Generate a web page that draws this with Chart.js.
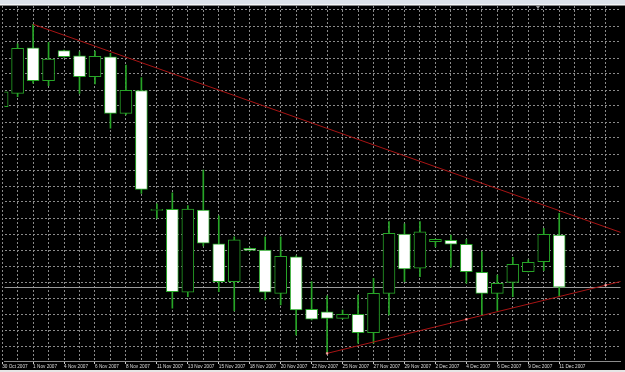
<!DOCTYPE html>
<html>
<head>
<meta charset="utf-8">
<script src="https://cdn.jsdelivr.net/npm/chart.js@4/dist/chart.umd.min.js"></script>
<style>
  html, body { margin: 0; padding: 0; background: #000; overflow: hidden; }
  #wrap { position: relative; width: 625px; height: 372px; }
  #wrap canvas { position: absolute; left: 0; top: 0; }
  #top { position: absolute; left: 0; top: 0; width: 625px; height: 4px; background: #dde2e9; border-bottom: 1px solid #f4f5f7; }
  #topline { position: absolute; left: 0; top: 5px; width: 625px; height: 1px; background: #858585; }
  #shift { position: absolute; left: 536px; top: 6px; width: 0; height: 0;
           border-left: 2px solid transparent; border-right: 2px solid transparent; border-top: 3px solid #9a9a9a; }
  #bottom { position: absolute; left: 0; top: 370px; width: 625px; height: 2px; background: #e6e6e6; }
</style>
</head>
<body>
<div id="wrap">
  <canvas id="chart" width="625" height="372"></canvas>
  <div id="top"></div>
  <div id="topline"></div>
  <div id="shift"></div>
  <div id="bottom"></div>
</div>
<script>
(() => {
  'use strict';

  // daily bars, 30 Oct - 11 Dec 2007 (price units)
  const DATES = ['30 Oct 2007', '31 Oct 2007', '1 Nov 2007', '2 Nov 2007', '4 Nov 2007', '5 Nov 2007',
    '6 Nov 2007', '7 Nov 2007', '8 Nov 2007', '9 Nov 2007', '11 Nov 2007', '12 Nov 2007', '13 Nov 2007',
    '14 Nov 2007', '15 Nov 2007', '16 Nov 2007', '18 Nov 2007', '19 Nov 2007', '20 Nov 2007', '21 Nov 2007',
    '22 Nov 2007', '23 Nov 2007', '25 Nov 2007', '26 Nov 2007', '27 Nov 2007', '28 Nov 2007', '29 Nov 2007',
    '30 Nov 2007', '2 Dec 2007', '3 Dec 2007', '4 Dec 2007', '5 Dec 2007', '6 Dec 2007', '7 Dec 2007',
    '9 Dec 2007', '10 Dec 2007', '11 Dec 2007'];

  const OPEN = [159.6, 167.9, 196.4, 175.8, 194.6, 191.3, 178.3, 190.8, 155.4, 169.6, 94.8, 95.4, 43.6,
    95.0, 73.8, 50.2, 71.1, 70.0, 42.9, 65.8, 32.9, 31.4, 27.3, 29.8, 18.3, 42.9, 80.0, 58.6, 75.2, 76.1,
    73.6, 56.1, 42.9, 49.8, 56.4, 62.7, 79.4];
  const HIGH = [173.1, 198.8, 211.1, 199.8, 195.0, 193.9, 194.4, 192.9, 185.6, 177.7, 98.8, 105.8, 97.7,
    120.0, 91.3, 78.3, 71.3, 78.3, 78.3, 66.3, 50.2, 41.3, 32.5, 41.9, 52.3, 87.7, 86.3, 87.7, 76.9, 79.4,
    76.7, 68.9, 54.4, 65.4, 63.8, 83.6, 92.9];
  const LOW = [157.5, 165.8, 174.2, 172.7, 190.3, 167.9, 173.8, 146.1, 154.4, 105.4, 89.8, 33.6, 40.8,
    72.5, 43.9, 31.9, 69.4, 38.8, 35.6, 16.9, 26.3, 5.4, 26.9, 11.7, 11.7, 29.4, 50.2, 53.3, 72.1, 59.2,
    49.2, 29.8, 31.9, 40.8, 56.3, 57.1, 40.8];
  const CLOSE = [168.9, 196.1, 175.8, 189.4, 190.8, 178.3, 191.1, 155.4, 169.8, 107.9, 94.8, 43.9, 95.6,
    74.2, 50.2, 76.3, 69.8, 43.6, 66.1, 32.5, 26.7, 27.3, 29.8, 18.3, 42.9, 80.4, 58.1, 81.4, 76.7, 73.6,
    56.4, 42.9, 49.2, 61.1, 62.3, 79.8, 46.7];

  // trend lines (bar index, price)
  const UPPER_X = [2, 40];
  const UPPER_Y = [211.1, 80.9];
  const LOWER_X = [21, 30, 39, 40];
  const LOWER_Y = [5.4, 26.7, 48.0, 50.4];

  const GREEN = '#27a527';
  const GRID = '#8a8a8a';
  const TREND = '#a81414';

  // current price line behind the bars
  const bidLine = {
    id: 'bidLine',
    beforeDatasetsDraw(chart) {
      const { ctx, chartArea, scales } = chart;
      const y = Math.round(scales.y.getPixelForValue(CLOSE[CLOSE.length - 1])) + 0.5;
      ctx.save();
      ctx.strokeStyle = '#9a9a9a';
      ctx.lineWidth = 1;
      ctx.beginPath();
      ctx.moveTo(chartArea.left, y);
      ctx.lineTo(chartArea.right, y);
      ctx.stroke();
      ctx.restore();
    },
  };

  new Chart(document.getElementById('chart'), {
    type: 'bar',
    data: {
      datasets: [{
        // wicks
        order: 3,
        data: LOW.map((l, i) => ({ x: i, y: [l, HIGH[i]] })),
        backgroundColor: GREEN,
        barThickness: 1,
        grouped: false,
      }, {
        // bodies
        order: 2,
        data: OPEN.map((o, i) => ({ x: i, y: [o, CLOSE[i]] })),
        backgroundColor: (c) => (CLOSE[c.dataIndex] < OPEN[c.dataIndex] ? '#ffffff' : '#000000'),
        borderColor: GREEN,
        borderWidth: 1,
        borderSkipped: false,
        barThickness: 12,
        minBarLength: 1,
        grouped: false,
      }, {
        type: 'line',
        order: 1,
        data: UPPER_X.map((x, i) => ({ x, y: UPPER_Y[i] })),
        borderColor: TREND,
        borderWidth: 1,
        pointRadius: 0,
      }, {
        type: 'line',
        order: 1,
        data: LOWER_X.map((x, i) => ({ x, y: LOWER_Y[i] })),
        borderColor: TREND,
        borderWidth: 1,
        pointStyle: 'rect',
        pointRadius: (c) => (c.dataIndex < 3 ? 1.2 : 0),
        pointBackgroundColor: '#ffd6d6',
        pointBorderColor: '#ff8080',
        pointBorderWidth: 0.5,
      }],
    },
    options: {
      responsive: false,
      animation: false,
      devicePixelRatio: 1,
      layout: { padding: { top: 6, bottom: 2, left: 0, right: 0 } },
      plugins: {
        legend: { display: false },
        tooltip: { enabled: false },
      },
      scales: {
        x: {
          type: 'linear',
          min: 0.153,
          max: 39.96,
          offset: false,
          grid: {
            offset: false,
            color: GRID,
            lineWidth: 1,
            tickLength: 3,
            tickBorderDash: [1, 0],
            tickColor: (c) => (c.tick && c.tick.value % 2 === 0 && c.tick.value < DATES.length ? '#cfcfcf' : 'rgba(0,0,0,0)'),
          },
          border: { display: true, color: '#8c8c8c', width: 1, dash: [2, 2] },
          ticks: {
            stepSize: 1,
            maxTicksLimit: 100,
            includeBounds: false,
            autoSkip: false,
            minRotation: 0,
            maxRotation: 0,
            align: 'start',
            padding: 0,
            color: '#dcdcdc',
            font: { family: 'Liberation Sans', size: 4.7 },
            callback: (v) => (v % 2 === 0 && v < DATES.length ? DATES[v] : ''),
          },
          // the first bar sits just left of the plot edge; keep its label tick
          afterBuildTicks: (s) => { s.ticks = [{ value: 0 }, ...s.ticks]; },
          afterFit: (s) => { s.height = 9; s.paddingLeft = 0; s.paddingRight = 0; },
        },
        y: {
          type: 'linear',
          position: 'left',
          min: 0.625,
          max: 222.5,
          grid: { color: GRID, lineWidth: 1, drawTicks: false },
          border: { display: false, dash: [2, 2] },
          ticks: { display: false, stepSize: 10, maxTicksLimit: 100, includeBounds: false },
          afterFit: (s) => { s.width = 0; },
        },
      },
    },
    plugins: [bidLine],
  });
})();
</script>
</body>
</html>
